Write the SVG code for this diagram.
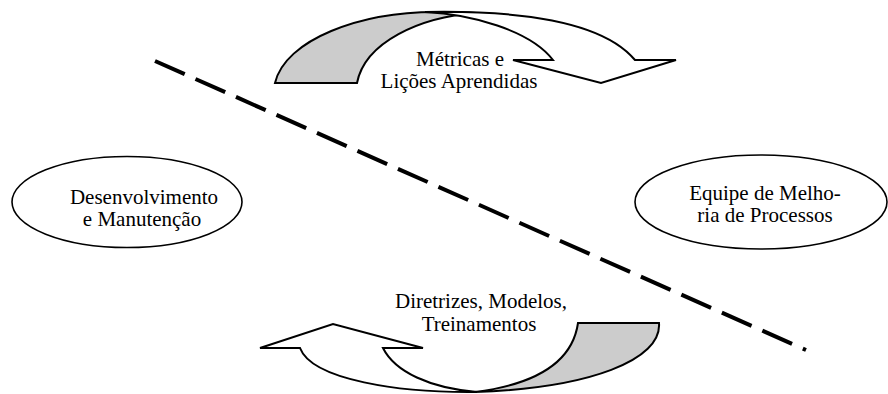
<svg xmlns="http://www.w3.org/2000/svg" width="888" height="394" viewBox="0 0 888 394">
<style>
.t{font-family:"Liberation Serif","Times New Roman",serif;font-size:21px;fill:#000;text-anchor:middle}
.s{stroke:#000;stroke-width:2;stroke-linejoin:miter}
.g{fill:#cccccc}
.w{fill:#fff}
.e{fill:#fff;stroke:#000;stroke-width:1.6}
</style>
<rect width="888" height="394" fill="#fff"/>
<g id="connectors">
<line x1="155" y1="61" x2="806" y2="350" stroke="#000" stroke-width="4" stroke-dasharray="32.5 11.8"/>
</g>
<g id="arrow-top">
<path class="s g" d="M275,83 C285,40 360,11 440,12 C455,12 465,12 476,13 C420,17 365,42 357,83 Z"/>
<path class="s w" d="M553,60 L513,60 L601,83 L676,60 L635,60 C605,24 530,10 425,12 C470,14 530,30 553,60 Z"/>
<text class="t" x="460" y="66">Métricas e</text>
<text class="t" x="459" y="88">Lições Aprendidas</text>
</g>
<g id="arrow-bottom">
<path class="s g" d="M578,323 L659,323 C662,360 590,388 475,392 C530,385 572,365 578,323 Z"/>
<path class="s w" d="M300,348 L260,348 L333,324 L423,348 L383,348 C395,372 430,388 477,392 C400,393 312,380 300,348 Z"/>
<text class="t" x="481" y="308">Diretrizes, Modelos,</text>
<text class="t" x="479" y="331">Treinamentos</text>
</g>
<g id="node-dev">
<ellipse class="e" cx="127" cy="202" rx="115" ry="45.5"/>
<text class="t" x="144" y="204">Desenvolvimento</text>
<text class="t" x="142" y="226">e Manutenção</text>
</g>
<g id="node-epg">
<ellipse class="e" cx="761" cy="202" rx="126" ry="47"/>
<text class="t" x="765" y="200">Equipe de Melho-</text>
<text class="t" x="765" y="222">ria de Processos</text>
</g>
</svg>
